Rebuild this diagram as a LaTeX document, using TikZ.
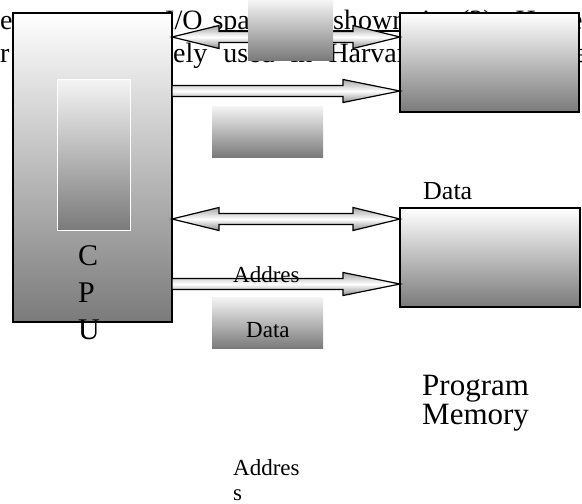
\documentclass[tikz,border=0pt]{standalone}
\usepackage{fontspec}
\setmainfont{Liberation Serif}
\usetikzlibrary{calc}

% block arrows between two named points
\newcommand{\dbus}[2]{%
  \draw[bus] (#1) -- ++(47,-11.5) -- ++(0,6) -- ($(#2)+(-47,-5.5)$) -- ++(0,-6) -- (#2)
    -- ++(-47,11.5) -- ++(0,-6) -- ($(#1)+(47,5.5)$) -- ++(0,6) -- cycle;}
\newcommand{\sbus}[2]{%
  \draw[bus] ($(#1)+(0,-5.5)$) -- ($(#2)+(-57,-5.5)$) -- ++(0,-6) -- (#2)
    -- ++(-57,11.5) -- ++(0,-6) -- ($(#1)+(0,5.5)$) -- cycle;}

\begin{document}
\begin{tikzpicture}[
  x=1pt, y=-1pt,
  box/.style={draw, line width=1.4pt, inner sep=0, outer sep=0, anchor=north west,
              top color=white, bottom color=black!52},
  shadebox/.style={inner sep=0, outer sep=0, anchor=north west,
              top color=white!96!black, bottom color=black!52},
  bus/.style={draw, line width=1.2pt, top color=black!35, bottom color=black!45,
              middle color=white},
  bgline/.style={anchor=base west, inner sep=0,
              font={\fontsize{28}{33}\selectfont\frenchspacing\spaceskip=16pt\relax}},
  lbl/.style={anchor=base west, inner sep=0, font=\fontsize{23}{25}\selectfont},
  big/.style={anchor=base west, inner sep=0, font=\fontsize{30}{30}\selectfont}
]
  \useasboundingbox (0,0) rectangle (582,504);
  \clip (0,0) rectangle (582,504);

  % page text behind the figure
  \node[bgline] (l1a) at (0,29) {e};
  \node[bgline] (l1b) at (133,29) {t};
  \node[bgline, font={\fontsize{28}{33}\selectfont\spaceskip=10pt\relax}] (l1c) at (165,29) {I/O space is};
  \node[bgline] (l1d) at (333,29) {shown in (2). However};
  \draw[line width=1.1pt] ($(l1c.base west)+(47,2)$) -- ($(l1d.base west)+(73,2)$);
  \node[bgline] (l2a) at (0,62) {r};
  \node[bgline] (l2b) at (173,62) {ely used in Harvard};
  \node[bgline] (l2c) at (574,62) {e};

  % blocks
  \node[box, minimum width=159pt, minimum height=309pt] (cpu) at (13,13) {};
  \node[shadebox, draw=white, line width=1pt, minimum width=73pt,
        minimum height=151pt] (reg) at (57,79) {};
  \node[box, minimum width=179pt, minimum height=99pt] (mem1) at (400,13) {};
  \node[box, minimum width=180pt, minimum height=99pt] (mem2) at (400,208) {};

  % buses
  \coordinate (b1l) at (cpu.east |- 0,37);
  \coordinate (b1r) at (mem1.west |- 0,37);
  \coordinate (b2l) at (cpu.east |- 0,91);
  \coordinate (b2r) at (mem1.west |- 0,91);
  \coordinate (b3l) at (cpu.east |- 0,219);
  \coordinate (b3r) at (mem2.west |- 0,219);
  \coordinate (b4l) at (cpu.east |- 0,284);
  \coordinate (b4r) at (mem2.west |- 0,284);
  \dbus{b1l}{b1r}
  \sbus{b2l}{b2r}
  \dbus{b3l}{b3r}
  \sbus{b4l}{b4r}

  \node[shadebox, minimum width=85pt, minimum height=60pt] (g1) at (248,0) {};
  \node[shadebox, minimum width=111pt, minimum height=51pt] (g2) at (212,106) {};
  \node[shadebox, minimum width=111pt, minimum height=51pt] (g3) at (212,297) {};

  % labels
  \node[big] (c) at (78,265) {C};
  \node[big] (p) at (78,302) {P};
  \node[big] (u) at (78,339) {U};
  \node[lbl] (addr1) at (233,282) {Addres};
  \node[lbl] (data1) at (246,337) {Data};
  \node[anchor=base west, inner sep=0, font=\fontsize{26}{26}\selectfont] (data2) at (423,199) {Data};
  \node[big, font=\fontsize{31}{30}\selectfont] (pm1) at (422,395) {Program};
  \node[big, font=\fontsize{31}{30}\selectfont] (pm2) at (422,424) {Memory};
  \node[lbl] (addr2) at (233,475) {Addres};
  \node[lbl] (addr3) at (233,500) {s};
\end{tikzpicture}
\end{document}
